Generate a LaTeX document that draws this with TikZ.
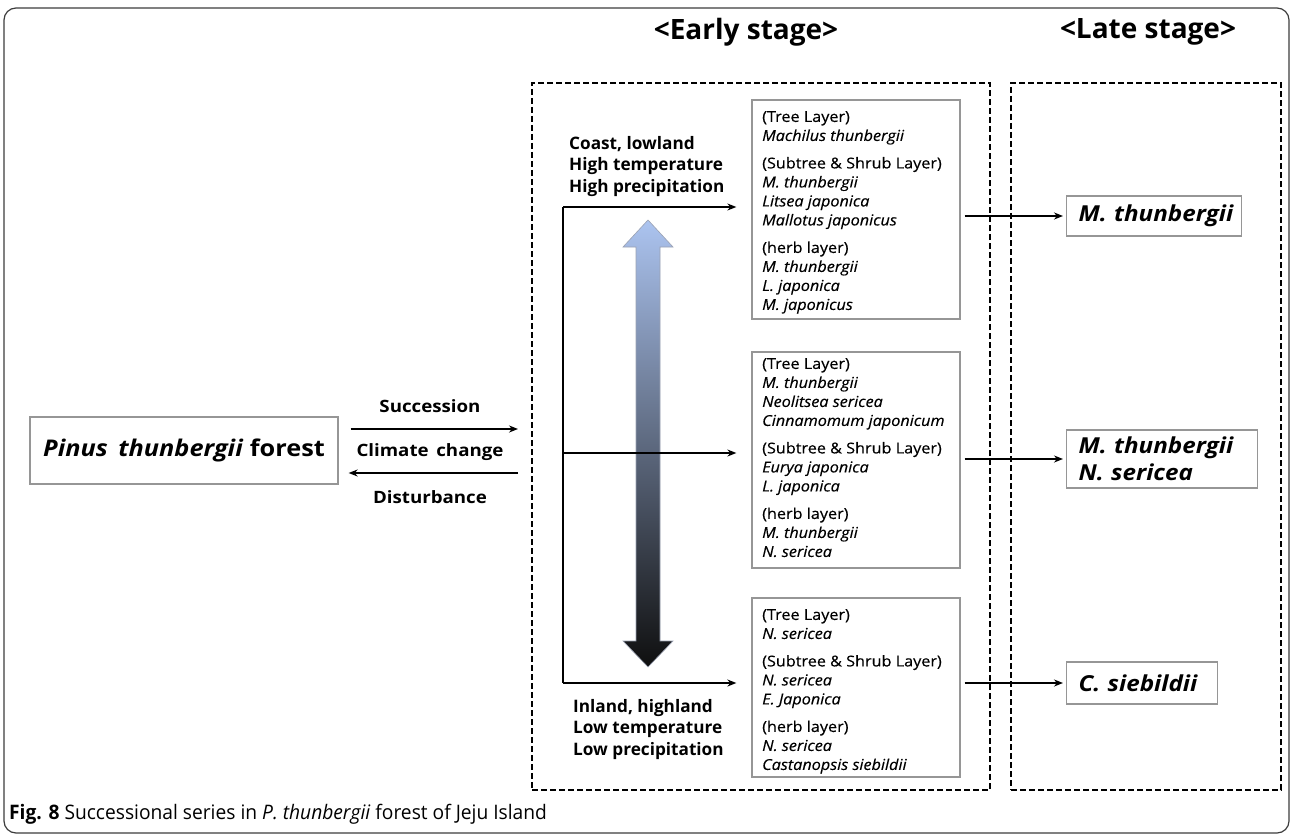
\documentclass[tikz,border=0pt]{standalone}
\usepackage{fontspec}
\setmainfont{Open Sans}
\newfontfamily\capfont[FakeStretch=0.96]{Open Sans}
\newfontfamily\boxfont[FakeStretch=1.08,FakeBold=0.3]{Open Sans}
\newfontfamily\widefont[FakeStretch=1.1]{Open Sans}
\usetikzlibrary{arrows.meta}
\definecolor{framegray}{RGB}{60,60,60}
\definecolor{boxgray}{RGB}{150,150,150}
\definecolor{arrtop}{RGB}{172,196,240}
\definecolor{arrmid}{RGB}{112,122,146}
\definecolor{arrbot}{RGB}{15,15,15}
\tikzset{
  stageframe/.style={draw=black, line width=2pt, dash pattern=on 6pt off 3pt, inner sep=0pt},
  titletext/.style={font=\fontsize{28}{32}\selectfont\bfseries, inner sep=0pt},
  graybox/.style={draw=boxgray, line width=1.3pt, inner sep=0pt},
  latebox/.style={draw=boxgray, line width=1.3pt, inner ysep=7pt, anchor=west,
     align=left, font=\widefont\fontsize{22}{27}\selectfont\bfseries\itshape},
  sptext/.style={anchor=north west, inner sep=0pt, align=left, font=\boxfont\fontsize{15}{19}\selectfont},
  condtext/.style={anchor=north west, inner sep=0pt, align=left, font=\fontsize{17.2}{21.5}\selectfont\bfseries},
  lbl/.style={inner sep=0pt, font=\widefont\fontsize{17}{20}\selectfont\bfseries},
  conn/.style={line width=1.7pt, -{Stealth[length=9pt,width=7pt]}},
  plain/.style={line width=1.7pt},
}
\begin{document}
\begin{tikzpicture}[x=1pt,y=-1pt]
\useasboundingbox (0,0) rectangle (1292,837);
\fill[white] (0,0) rectangle (1292,837);
\draw[framegray, line width=1.2pt, rounded corners=12pt] (4,8) rectangle (1289,833);

% titles
\node[titletext] (earlyt) at (746,32) {<Early stage>};
\node[titletext] (latet) at (1148,32) {<Late stage>};

% stage frames
\node[stageframe, minimum width=458pt, minimum height=707pt] (early) at (761,436.5) {};
\node[stageframe, minimum width=270pt, minimum height=707pt] (late) at (1146,436.5) {};

% pinus box
\node[graybox, minimum width=308pt, minimum height=67pt, font=\widefont\fontsize{23}{27}\selectfont\bfseries] (pinus) at (184,450.5) {\textit{Pinus\, thunbergii} forest};

% succession arrows and labels
\coordinate (ya) at (0,429);
\coordinate (yb) at (0,473);
\draw[conn, shorten <=12pt, shorten >=13pt] (pinus.east |- ya) -- (early.west |- ya);
\draw[conn, shorten <=13pt, shorten >=10pt] (early.west |- yb) -- (pinus.east |- yb);
\node[lbl] (succ) at (430,406) {Succession};
\node[lbl] (clim) at (430,452) {Climate\, change};
\node[lbl] (dist) at (430,497) {Disturbance};

% species boxes
\node[graybox, minimum width=208pt, minimum height=219pt] (box1) at (856,209.5) {};
\node[graybox, minimum width=208pt, minimum height=216pt] (box2) at (856,460) {};
\node[graybox, minimum width=208pt, minimum height=179pt] (box3) at (856,687.5) {};

\node[sptext] (t1) at (762,111) {(Tree Layer)\\
\textit{Machilus thunbergii}\\[8.5pt]
(Subtree \& Shrub Layer)\\
\textit{M. thunbergii}\\
\textit{Litsea japonica}\\
\textit{Mallotus japonicus}\\[8.5pt]
(herb layer)\\
\textit{M. thunbergii}\\
\textit{L. japonica}\\
\textit{M. japonicus}};

\node[sptext] (t2) at (762,358) {(Tree Layer)\\
\textit{M. thunbergii}\\
\textit{Neolitsea sericea}\\
\textit{Cinnamomum japonicum}\\[8.5pt]
(Subtree \& Shrub Layer)\\
\textit{Eurya japonica}\\
\textit{L. japonica}\\[8.5pt]
(herb layer)\\
\textit{M. thunbergii}\\
\textit{N. sericea}};

\node[sptext] (t3) at (762,609) {(Tree Layer)\\
\textit{N. sericea}\\[8.5pt]
(Subtree \& Shrub Layer)\\
\textit{N. sericea}\\
\textit{E. Japonica}\\[8.5pt]
(herb layer)\\
\textit{N. sericea}\\
\textit{Castanopsis siebildii}};

% gradient arrow
\shade[top color=arrtop, middle color=arrmid, bottom color=arrbot, draw=arrmid!70, line width=0.6pt]
  (648,220) -- (673,247) -- (660,247) -- (660,641) -- (673,641) -- (648,667)
  -- (623,641) -- (636,641) -- (636,247) -- (623,247) -- cycle;

% environment gradient connectors
\coordinate (vtop) at (563,207);
\coordinate (vmid) at (563,453);
\coordinate (vbot) at (563,683);
\draw[plain] (vtop) -- (vbot);
\draw[conn, shorten >=15pt] (vtop) -- (box1.west |- vtop);
\draw[conn, shorten >=15pt] (vmid) -- (box2.west |- vmid);
\draw[conn, shorten >=15pt] (vbot) -- (box3.west |- vbot);

\node[condtext] (hi) at (569,136) {Coast, lowland\\High temperature\\High precipitation};
\node[condtext] (lo) at (573,699) {Inland, highland\\Low temperature\\Low precipitation};

% late stage boxes
\node[latebox, inner xsep=0pt, text width=175pt, minimum height=40pt] (la) at (1066,216)
  {\hspace*{12pt}M. thunbergii};
\node[latebox, inner xsep=0pt, text width=191pt] (lb) at (1066,459)
  {\hspace*{12pt}M. thunbergii\\\hspace*{12pt}N. sericea};
\node[latebox, inner xsep=0pt, text width=151pt, minimum height=42pt] (lc) at (1066,683)
  {\hspace*{12pt}C. siebildii};
\draw[conn, shorten <=4pt, shorten >=3pt] (box1.east |- la.west) -- (la.west);
\draw[conn, shorten <=4pt, shorten >=3pt] (box2.east |- lb.west) -- (lb.west);
\draw[conn, shorten <=4pt, shorten >=3pt] (box3.east |- lc.west) -- (lc.west);

% caption
\node[anchor=west, inner sep=0pt, font=\capfont\fontsize{20}{24}\selectfont] (cap) at (9,814)
  {\textbf{Fig. 8} Successional series in \textit{P. thunbergii} forest of Jeju Island};
\end{tikzpicture}
\end{document}
